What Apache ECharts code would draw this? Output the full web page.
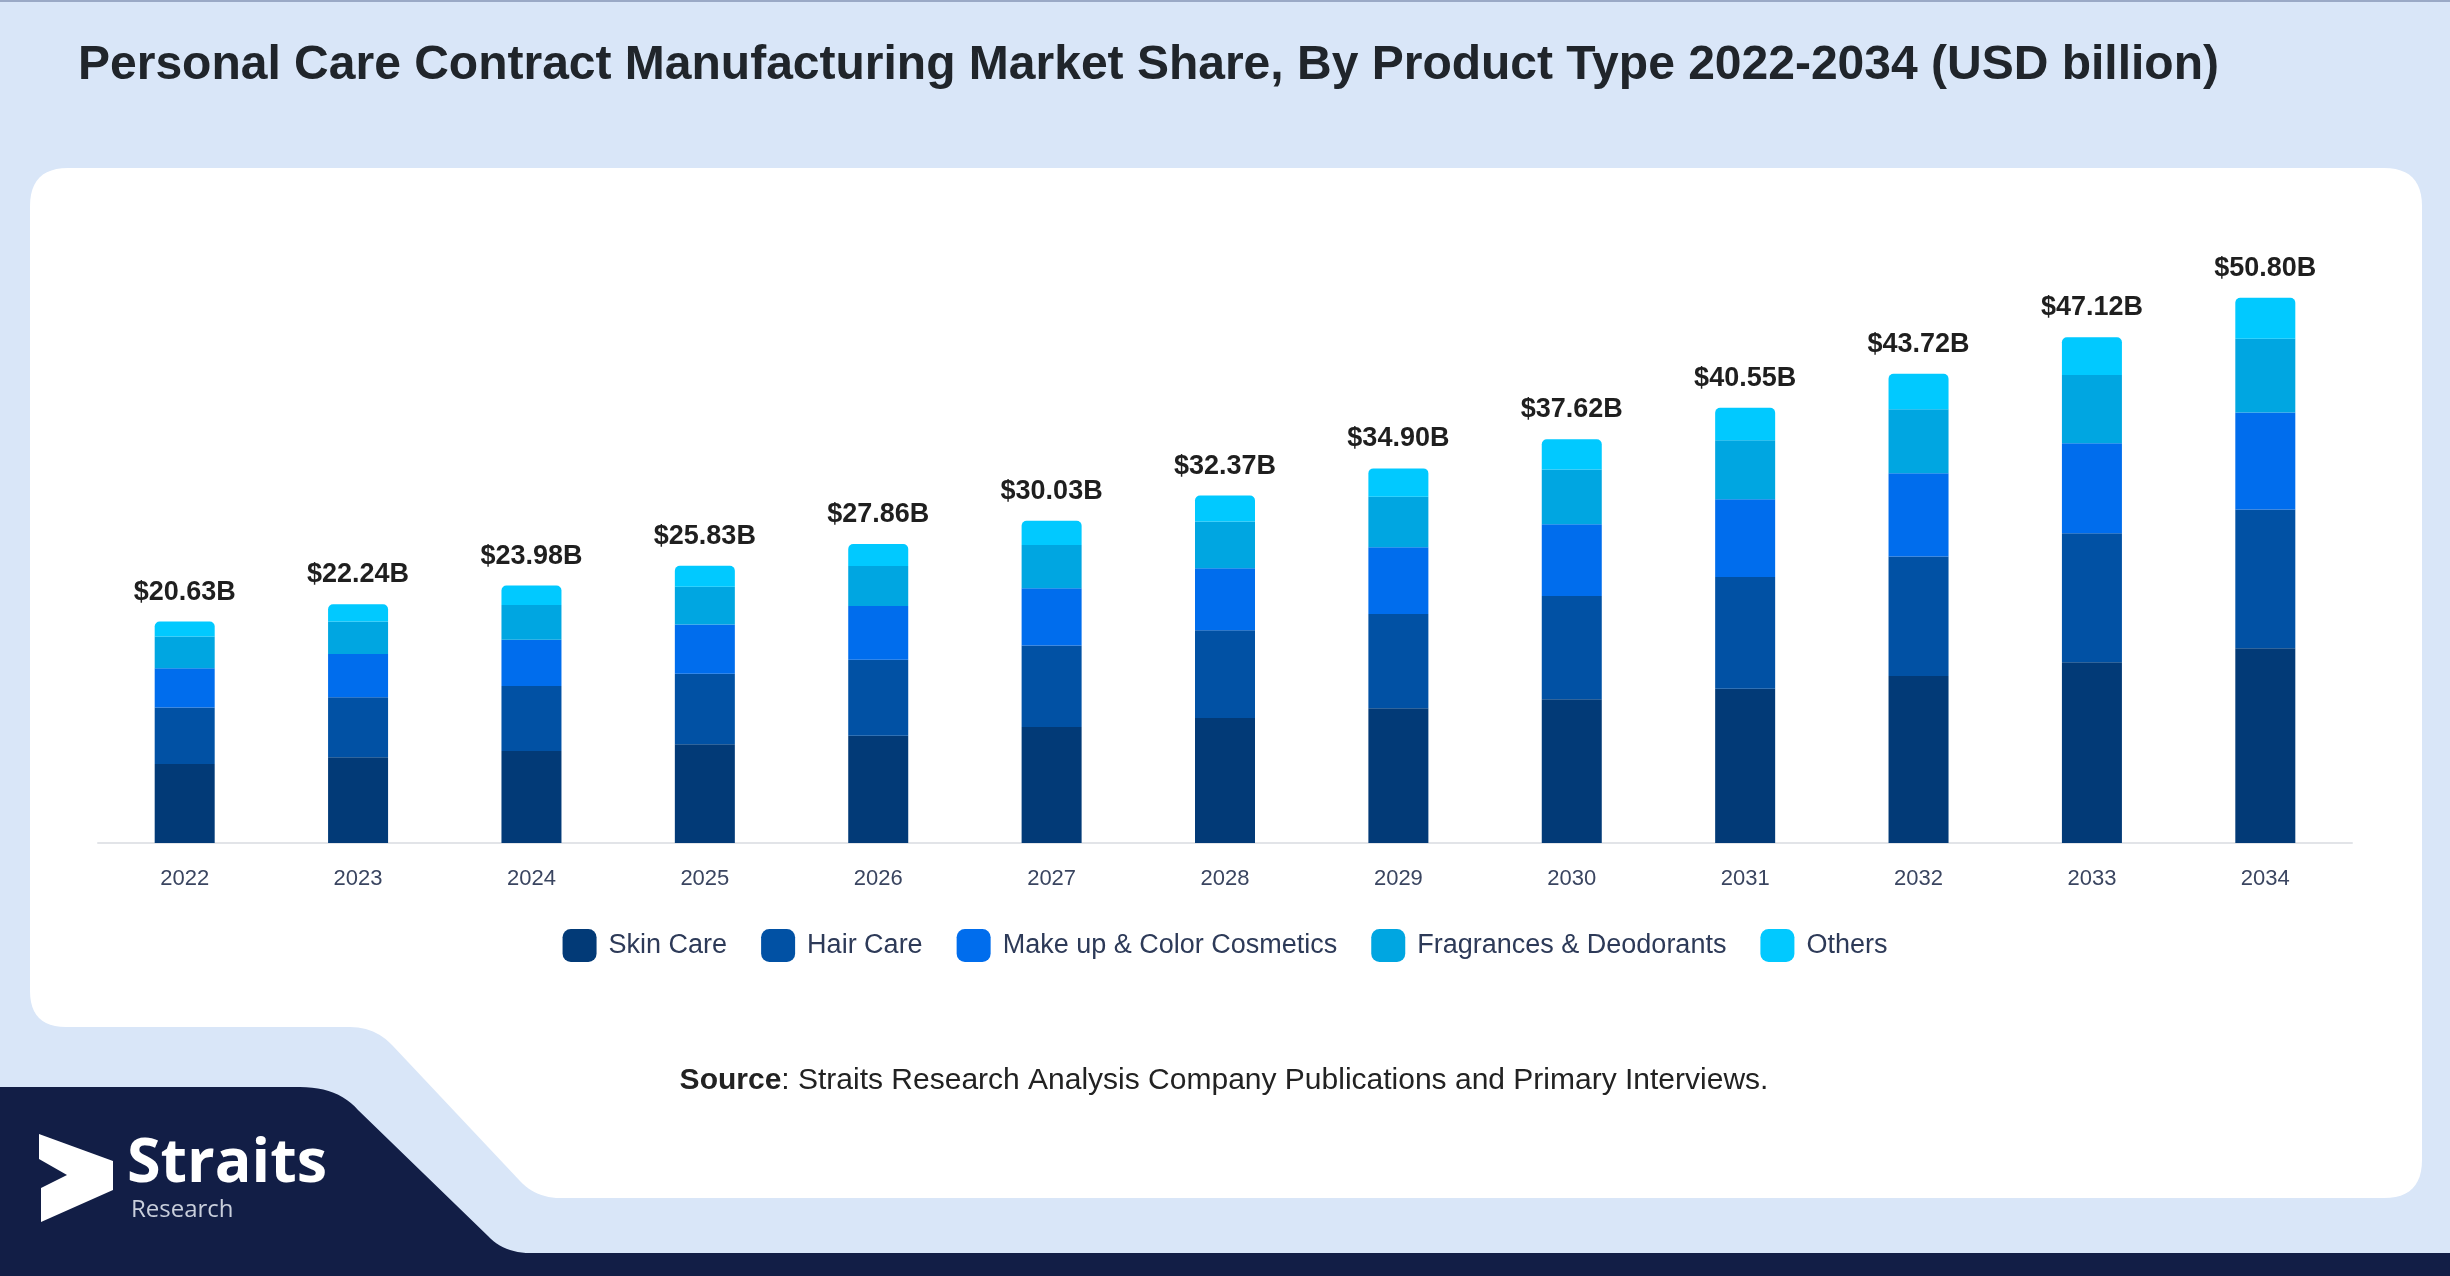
<!DOCTYPE html>
<html>
<head>
<meta charset="utf-8">
<script src="https://cdn.jsdelivr.net/npm/echarts@6/dist/echarts.min.js"></script>
<style>
html,body{margin:0;padding:0;background:#d9e6f8;}
#chart{width:2450px;height:1276px;}
</style>
</head>
<body>
<div id="chart"></div>
<script>
var years = ['2022','2023','2024','2025','2026','2027','2028','2029','2030','2031','2032','2033','2034'];
var skinCare   = [7.35, 7.98, 8.57, 9.19, 9.99, 10.80, 11.64, 12.56, 13.39, 14.38, 15.56, 16.85, 18.15];
var hairCare   = [5.28, 5.59, 6.06, 6.59, 7.08, 7.60, 8.19, 8.78, 9.63, 10.41, 11.14, 12.01, 12.93];
var makeUp     = [3.65, 4.03, 4.30, 4.57, 5.02, 5.34, 5.77, 6.21, 6.68, 7.24, 7.76, 8.38, 9.02];
var fragrances = [2.95, 3.04, 3.25, 3.53, 3.72, 4.03, 4.35, 4.72, 5.10, 5.50, 5.94, 6.37, 6.88];
var others     = [1.40, 1.60, 1.80, 1.95, 2.05, 2.26, 2.42, 2.63, 2.82, 3.02, 3.32, 3.51, 3.82];
var totals     = [20.63, 22.24, 23.98, 25.83, 27.86, 30.03, 32.37, 34.90, 37.62, 40.55, 43.72, 47.12, 50.80];

var seriesNames = ['Skin Care', 'Hair Care', 'Make up & Color Cosmetics', 'Fragrances & Deodorants', 'Others'];
var seriesData = [skinCare, hairCare, makeUp, fragrances, others];
var colors = ['#023a77', '#0151a4', '#006ded', '#00a6e1', '#01c9ff'];

var FONT = '"Liberation Sans", Arial, sans-serif';

// decorative outline helper: list of ['L',x,y] or ['Q',cx,cy,x,y]
function outline(start, segs) {
  var pts = [start.slice()];
  var cur = start.slice();
  segs.forEach(function (s) {
    if (s[0] === 'L') {
      cur = [s[1], s[2]];
      pts.push(cur);
    } else {
      var c = [s[1], s[2]], e = [s[3], s[4]];
      for (var k = 1; k <= 12; k++) {
        var t = k / 12, u = 1 - t;
        pts.push([u * u * cur[0] + 2 * u * t * c[0] + t * t * e[0], u * u * cur[1] + 2 * u * t * c[1] + t * t * e[1]]);
      }
      cur = e;
    }
  });
  return pts;
}

var cardPts = outline([68, 168], [
  ['L', 2384, 168], ['Q', 2422, 168, 2422, 206], ['L', 2422, 1160], ['Q', 2422, 1198, 2384, 1198],
  ['L', 560, 1198], ['Q', 536, 1198, 520, 1181], ['L', 392, 1045], ['Q', 375, 1027, 350, 1027],
  ['L', 66, 1027], ['Q', 30, 1027, 30, 991], ['L', 30, 206], ['Q', 30, 168, 68, 168]
]);
var navyPts = outline([0, 1087], [
  ['L', 300, 1087], ['Q', 338, 1087, 358, 1110], ['L', 488, 1236], ['Q', 504, 1253, 530, 1253],
  ['L', 2450, 1253], ['L', 2450, 1276], ['L', 0, 1276]
]);

var chart = echarts.init(document.getElementById('chart'), null, {renderer: 'canvas'});

var series = seriesNames.map(function (name, i) {
  var s = {
    name: name,
    type: 'bar',
    stack: 'total',
    barWidth: 60,
    data: seriesData[i],
    itemStyle: {color: colors[i]},
    emphasis: {disabled: true}
  };
  if (i === seriesNames.length - 1) {
    s.itemStyle.borderRadius = [5, 5, 0, 0];
    s.label = {
      show: true,
      position: 'top',
      distance: 16,
      fontFamily: FONT,
      fontSize: 27,
      fontWeight: 'bold',
      color: '#1f1f1f',
      formatter: function (p) { return '$' + totals[p.dataIndex].toFixed(2) + 'B'; }
    };
  }
  return s;
});

var option = {
  backgroundColor: '#d9e6f8',
  animation: false,
  color: colors,
  textStyle: {fontFamily: FONT},
  title: {
    text: 'Personal Care Contract Manufacturing Market Share, By Product Type 2022-2034 (USD billion)',
    left: 73,
    top: 37,
    textStyle: {fontFamily: FONT, fontSize: 48, fontWeight: 'bold', color: '#20252b'}
  },
  legend: {
    data: seriesNames,
    left: 'center',
    top: 924,
    icon: 'roundRect',
    itemWidth: 34,
    itemHeight: 33,
    itemGap: 34,
    textStyle: {fontFamily: FONT, fontSize: 27, color: '#2d3a58', padding: [0, 0, 0, 7]}
  },
  grid: {left: 98, right: 98, top: 199, bottom: 433, containLabel: false},
  xAxis: {
    type: 'category',
    data: years,
    axisLine: {lineStyle: {color: '#e2e4e8', width: 2}},
    axisTick: {show: false},
    axisLabel: {fontFamily: FONT, fontSize: 22, color: '#3a4560', margin: 25}
  },
  yAxis: {
    type: 'value',
    min: 0,
    max: 60,
    show: false,
    splitLine: {show: false}
  },
  graphic: [
    {
      type: 'rect', z: -20, silent: true,
      shape: {x: 0, y: 0, width: 2450, height: 2},
      style: {fill: '#9aa9c6'}
    },
    {
      type: 'polygon', z: -10, silent: true,
      shape: {points: cardPts},
      style: {fill: '#ffffff'}
    },
    {
      type: 'polygon', z: -10, silent: true,
      shape: {points: navyPts},
      style: {fill: '#121e46'}
    },
    {
      type: 'polygon', z: -5, silent: true,
      shape: {points: [[39,1134],[113,1161],[113,1190],[41,1222],[41,1188],[67,1175],[39,1159]]},
      style: {fill: '#ffffff'}
    },
    {
      type: 'text', z: -5, silent: true,
      x: 127, y: 1165,
      style: {text: 'Straits', fill: '#ffffff', font: '700 61px "Open Sans", "Liberation Sans", sans-serif', verticalAlign: 'middle', align: 'left'}
    },
    {
      type: 'text', z: -5, silent: true,
      x: 131, y: 1210,
      style: {text: 'Research', fill: '#c9cfdc', font: '24px "Open Sans", "Liberation Sans", sans-serif', verticalAlign: 'middle', align: 'left'}
    },
    {
      type: 'text', z: -5, silent: true,
      x: 1224, y: 1081,
      style: {
        text: '{b|Source}: Straits Research Analysis Company Publications and Primary Interviews.',
        fill: '#222222',
        font: '30px "Liberation Sans", Arial, sans-serif',
        align: 'center',
        verticalAlign: 'middle',
        rich: {b: {fontWeight: 'bold', fontSize: 30, fontFamily: FONT, fill: '#222222'}}
      }
    }
  ],
  series: series
};

chart.setOption(option);
</script>
</body>
</html>
